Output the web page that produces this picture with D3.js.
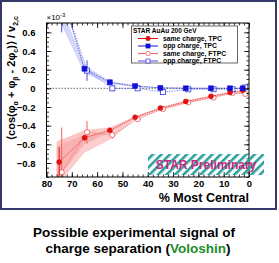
<!DOCTYPE html>
<meta charset="utf-8">
<style>
  body { margin: 0; background: #fff; }
  text { font-family: "Liberation Sans", Arial, sans-serif; font-weight: bold; }
</style>
<body>
<script src="https://d3js.org/d3.v7.min.js"></script>
<script>
// centrality bins (TPC and FTPC points are shifted a little)
var centTPC = [75, 65, 55, 45, 35, 25, 15, 7.5, 2.5];
var centFTPC = [74, 64, 54, 44, 34, 24, 14, 6.5, 1.5];

// values in units of 1e-3
var sameTPC = [-0.79, -0.53, -0.45, -0.31, -0.21, -0.14, -0.085, -0.045, -0.02];
var sameTPCErr = [0.16, 0.03, 0.02, 0.015, 0.01, 0.01, 0.01, 0.01, 0.01];
var oppTPC = [1.1, 0.21, 0.065, 0.025, 0.005, 0.0, 0.0, 0.0, 0.0];
var oppTPCErr = [0.2, 0.03, 0.01, 0.01, 0.01, 0.01, 0.01, 0.01, 0.01];
var sameFTPC = [-0.90, -0.47, -0.50, -0.33, -0.22, -0.15, -0.10, -0.05, -0.06];
var sameFTPCErr = [0.48, 0.12, 0.04, 0.02, 0.015, 0.01, 0.01, 0.01, 0.01];
var oppFTPC = [1.0, 0.19, 0.0, 0.0, -0.04, -0.01, -0.01, -0.01, 0.01];
var oppFTPCErr = [0.4, 0.11, 0.03, 0.015, 0.01, 0.01, 0.01, 0.01, 0.01];

// shaded bands
var bandCent = [76, 65, 55, 45, 35, 25, 15, 7.5, 2.5];
var blueHi = [1.0, 0.25, 0.075, 0.03, 0.012, 0.006, 0.005, 0.005, 0.005];
var blueLo = [0.79, 0.16, 0.045, 0.015, 0.0, -0.002, -0.002, -0.002, -0.002];
var redHi = [-0.57, -0.45, -0.42, -0.30, -0.205, -0.135, -0.08, -0.04, -0.02];
var redLo = [-0.98, -0.60, -0.47, -0.32, -0.225, -0.155, -0.095, -0.055, -0.04];
var redHi2 = [-0.62, -0.50, -0.46, -0.31, -0.21, -0.14, -0.085, -0.045, -0.03];
var redLo2 = [-1.05, -0.69, -0.55, -0.34, -0.235, -0.165, -0.105, -0.06, -0.06];

var xTicks = [80, 70, 60, 50, 40, 30, 20, 10, 0];
var yTicks = [-0.8, -0.6, -0.4, -0.2, 0, 0.2, 0.4, 0.6];

var W = 279, H = 263;
var x0 = 46.5, x1 = 249, yTop = 23, yBot = 177;

var svg = d3.select("body").append("svg")
    .attr("width", W).attr("height", H);

// outer frame
svg.append("rect")
    .attr("x", 1).attr("y", 1).attr("width", 275).attr("height", 208)
    .style("fill", "none").style("stroke", "#35386a").style("stroke-width", 2);

var x = d3.scaleLinear().domain([80, 0]).range([x0, x1]);
var y = d3.scaleLinear().domain([-0.95, 0.7]).range([yBot, yTop]);

svg.append("clipPath").attr("id", "clip")
  .append("rect").attr("x", x0).attr("y", yTop).attr("width", x1 - x0).attr("height", yBot - yTop);

var plot = svg.append("g").attr("clip-path", "url(#clip)");

function band(hi, lo) {
    return d3.area()
        .x(function(d, i) { return x(bandCent[i]); })
        .y0(function(d, i) { return y(lo[i]); })
        .y1(function(d, i) { return y(hi[i]); })(hi);
}

plot.append("path").attr("d", band(blueHi, blueLo))
    .style("fill", "#a8b0f2").style("opacity", 0.5);
plot.append("path").attr("d", band(redHi2, redLo2))
    .style("fill", "#fbb8b8").style("opacity", 0.7);
plot.append("path").attr("d", band(redHi, redLo))
    .style("fill", "#f7a0a0").style("opacity", 0.6);

// zero line
plot.append("line")
    .attr("x1", x0).attr("x2", x1).attr("y1", y(0)).attr("y2", y(0))
    .style("stroke", "#888").style("stroke-width", 1.2).style("stroke-dasharray", "1.5,1.5");

function series(cent, vals, errs, color, marker, open) {
    var pts = cent.map(function(c, i) { return [x(c), y(vals[i])]; });
    plot.append("path").attr("d", d3.line()(pts))
        .style("fill", "none").style("stroke", color)
        .style("stroke-width", 0.8).style("stroke-dasharray", "1.5,1").style("opacity", 0.8);
    plot.selectAll(null).data(pts).enter().append("line")
        .attr("x1", function(d) { return d[0]; }).attr("x2", function(d) { return d[0]; })
        .attr("y1", function(d, i) { return y(vals[i] + errs[i]); })
        .attr("y2", function(d, i) { return y(vals[i] - errs[i]); })
        .style("stroke", color).style("stroke-width", 1);
    var m = plot.selectAll(null).data(pts).enter();
    var el;
    if (marker === "circle") {
        el = m.append("circle").attr("r", open ? 2.6 : 2.5)
            .attr("cx", function(d) { return d[0]; }).attr("cy", function(d) { return d[1]; });
    } else {
        el = m.append("rect").attr("width", 5).attr("height", 5)
            .attr("x", function(d) { return d[0] - 2.5; }).attr("y", function(d) { return d[1] - 2.5; });
    }
    el.style("fill", open ? "#fff" : color).style("stroke", color).style("stroke-width", open ? 0.9 : 0.5);
}

series(centFTPC, sameFTPC, sameFTPCErr, "#f06060", "circle", true);
series(centFTPC, oppFTPC, oppFTPCErr, "#4a4ae8", "rect", true);
series(centTPC, sameTPC, sameTPCErr, "#e01010", "circle", false);
series(centTPC, oppTPC, oppTPCErr, "#1010d8", "rect", false);

// axes with inward ticks
var minorX = d3.range(0, 81, 2);
var minorY = d3.range(-0.95, 0.701, 0.05).map(function(v) { return Math.round(v * 100) / 100; });

function ax(axis, t) {
    return svg.append("g").attr("transform", t).call(axis)
        .call(function(g) { g.select(".domain").remove(); });
}

ax(d3.axisBottom(x).tickValues(minorX).tickSize(-2.5).tickFormat(""), "translate(0," + yBot + ")");
ax(d3.axisTop(x).tickValues(minorX).tickSize(-2.5).tickFormat(""), "translate(0," + yTop + ")");
ax(d3.axisLeft(y).tickValues(minorY).tickSize(-2.5).tickFormat(""), "translate(" + x0 + ",0)");
ax(d3.axisRight(y).tickValues(minorY).tickSize(-2.5).tickFormat(""), "translate(" + x1 + ",0)");

var bx = ax(d3.axisBottom(x).tickValues(xTicks).tickSize(-5).tickPadding(3).tickFormat(d3.format("d")),
    "translate(0," + yBot + ")");
ax(d3.axisTop(x).tickValues(xTicks).tickSize(-5).tickFormat(""), "translate(0," + yTop + ")");
var ly = ax(d3.axisLeft(y).tickValues(yTicks).tickSize(-5).tickPadding(11)
    .tickFormat(function(d) { return d === 0 ? "0" : d3.format(".1f")(d); }), "translate(" + x0 + ",0)");
ax(d3.axisRight(y).tickValues(yTicks).tickSize(-5).tickFormat(""), "translate(" + x1 + ",0)");

svg.selectAll(".tick line").style("stroke", "#000").style("stroke-width", 0.8);
bx.selectAll("text").style("font-size", "9.5px").style("fill", "#000");
ly.selectAll("text").style("font-size", "9.5px").style("fill", "#000");

svg.append("rect").attr("x", x0).attr("y", yTop).attr("width", x1 - x0).attr("height", yBot - yTop)
    .style("fill", "none").style("stroke", "#000").style("stroke-width", 1);

// exponent
var ex = svg.append("text").attr("x", x0).attr("y", 20).style("font-size", "8px").style("font-weight", "normal");
ex.append("tspan").text("\u00d710");
ex.append("tspan").attr("dy", -3).style("font-size", "6px").text("-3");

// y title
var yt = svg.append("text")
    .attr("transform", "translate(15,78) rotate(-90)")
    .attr("text-anchor", "middle").style("font-size", "11px");
yt.append("tspan").text("\u27e8cos(\u03c6");
yt.append("tspan").attr("dy", 3).style("font-size", "7px").text("\u03b1");
yt.append("tspan").attr("dy", -3).text(" + \u03c6");
yt.append("tspan").attr("dy", 3).style("font-size", "7px").text("\u03b2");
yt.append("tspan").attr("dy", -3).text(" - 2\u03c6");
yt.append("tspan").attr("dy", 3).style("font-size", "7px").text("c");
yt.append("tspan").attr("dy", -3).text(")\u27e9 / v");
yt.append("tspan").attr("dy", 3).style("font-size", "7px").text("2,c");

// x title
svg.append("text").attr("x", x1).attr("y", 202).attr("text-anchor", "end")
    .style("font-size", "12.5px").text("% Most Central");

// legend
var lg = svg.append("g");
lg.append("rect").attr("x", 131.5).attr("y", 26).attr("width", 106).attr("height", 37)
    .style("fill", "#fff").style("stroke", "#444").style("stroke-width", 0.8);
lg.append("text").attr("x", 133).attr("y", 32.5).style("font-size", "6.5px").text("STAR  AuAu 200 GeV");
var legNames = ["same charge, TPC", "opp charge, TPC", "same charge, FTPC", "opp charge, FTPC"];
var legCol = ["#e01010", "#1010d8", "#f06060", "#4a4ae8"];
legNames.forEach(function(n, i) {
    var yy = 38.5 + i * 7.5;
    lg.append("line").attr("x1", 138).attr("x2", 158).attr("y1", yy).attr("y2", yy)
        .style("stroke", legCol[i]).style("stroke-width", 1);
    var open = i > 1, col = legCol[i];
    if (i % 2 === 0) {
        lg.append("circle").attr("cx", 148).attr("cy", yy).attr("r", 2.2)
            .style("fill", open ? "#fff" : col).style("stroke", col).style("stroke-width", 0.8);
    } else {
        lg.append("rect").attr("x", 146).attr("y", yy - 2).attr("width", 4).attr("height", 4)
            .style("fill", open ? "#fff" : col).style("stroke", col).style("stroke-width", 0.8);
    }
    lg.append("text").attr("x", 163).attr("y", yy + 2.3).style("font-size", "6.8px").text(n);
});

// STAR Preliminary hatched box
var defs = svg.append("defs");
var pat = defs.append("pattern").attr("id", "hatch").attr("patternUnits", "userSpaceOnUse")
    .attr("width", 6).attr("height", 6).attr("patternTransform", "rotate(45)");
pat.append("rect").attr("width", 2.6).attr("height", 6).style("fill", "#2aa0a0");
svg.append("rect").attr("x", 148).attr("y", 154).attr("width", 116).attr("height", 21)
    .style("fill", "url(#hatch)");
svg.append("text").attr("x", 206).attr("y", 169).attr("text-anchor", "middle")
    .style("font-size", "12px").style("fill", "#c4287e").text("STAR Preliminary");

// caption
svg.append("text").attr("x", 134).attr("y", 236.5).attr("text-anchor", "middle")
    .style("font-size", "13.5px").text("Possible experimental signal of");
var c2 = svg.append("text").attr("x", 138).attr("y", 253).attr("text-anchor", "middle")
    .style("font-size", "13.5px");
c2.append("tspan").text("charge separation (");
c2.append("tspan").style("fill", "#1c8c2c").text("Voloshin");
c2.append("tspan").text(")");
</script>
</body>
